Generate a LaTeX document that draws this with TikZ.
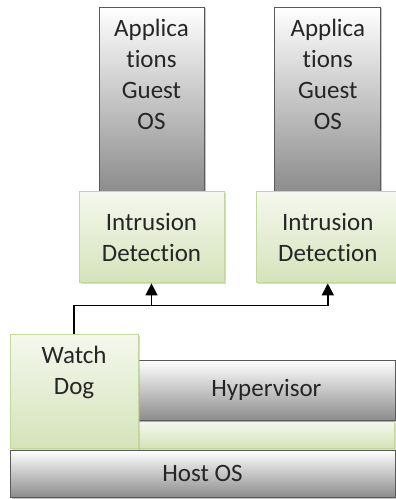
\documentclass[tikz,border=0pt]{standalone}
\usepackage{fontspec}
\setmainfont{Carlito}[Ligatures=CommonOff]
\usepackage{tikz}
\usetikzlibrary{positioning,calc,shadows,arrows.meta}

\definecolor{grayline}{HTML}{5A5A5A}
\definecolor{greenline}{HTML}{C3D69B}
\definecolor{greentop}{HTML}{F4F8EE}
\definecolor{greenbot}{HTML}{D5E3BA}
\newcommand{\toptext}[3]{\parbox[c][#1][t]{#2}{\centering\vspace*{12pt}#3}}

\begin{document}
\begin{tikzpicture}[x=1pt, y=1pt, node distance=0pt,
    every node/.style={font=\fontsize{25}{31}\selectfont, text=black!85, inner sep=0pt},
    graybox/.style={draw=grayline, line width=0.8pt, top color=white, bottom color=black!45,
        drop shadow={shadow xshift=1.5pt, shadow yshift=-1.5pt, fill=black!40, opacity=.6}},
    greenbox/.style={draw=greenline, line width=1pt, top color=greentop, bottom color=greenbot,
        drop shadow={shadow xshift=1.5pt, shadow yshift=-1.5pt, fill=black!30, opacity=.5}},
    link/.style={line width=1.6pt, -{Triangle[length=12pt,width=12pt]}}]
    \useasboundingbox (0,0) rectangle (396,499);

    % host and hypervisor layers
    \node [graybox, minimum width=385, minimum height=47] (host) at (202.5,25.5) {Host OS};
    \node [greenbox, minimum width=257, minimum height=27, above left=1pt and 0pt of host.north east] (strip) {};
    \node [graybox, minimum width=257, minimum height=60, above=of strip] (hyper) {Hypervisor};
    \node [greenbox, minimum width=128, minimum height=114, above right=1pt and 0pt of host.north west] (dog) {\toptext{114pt}{128pt}{Watch\\Dog}};

    % guests
    \node [graybox] (guest1) at (151.5,400) {\toptext{184pt}{105pt}{Applica\\tions\\Guest\\OS}};
    \node [graybox, right=70pt of guest1] (guest2) {\toptext{184pt}{106pt}{Applica\\tions\\Guest\\OS}};
    \node [greenbox, minimum width=145, minimum height=91, align=center, below=of guest1] (intr1) {Intrusion\\Detection};
    \node [greenbox, minimum width=142, minimum height=91, align=center, below=of guest2] (intr2) {Intrusion\\Detection};

    % watch dog links
    \coordinate (bus) at ($(dog.north)+(0,28)$);
    \draw [link] (dog.north) -- (bus) -| (intr2.south);
    \draw [link] (intr1.south |- bus) -- (intr1.south);
\end{tikzpicture}
\end{document}
